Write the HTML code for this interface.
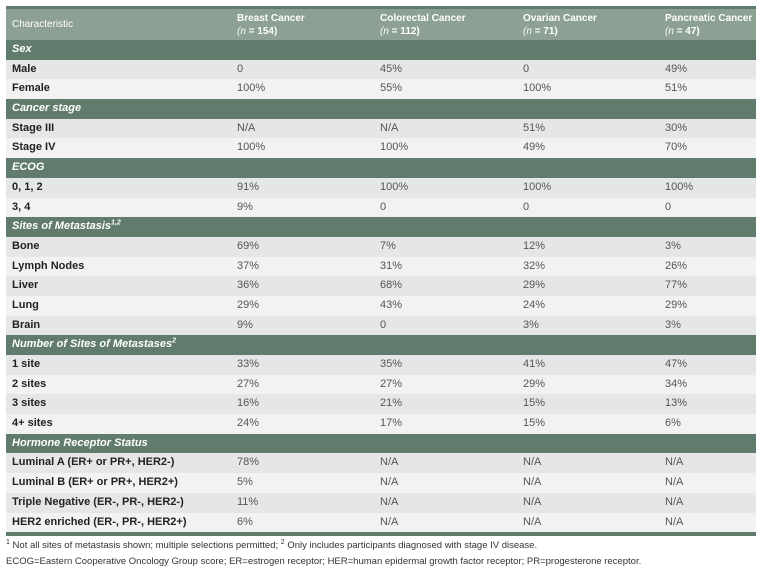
<!DOCTYPE html>
<html><head><style>
body{margin:0;width:762px;height:570px;background:#fff;font-family:"Liberation Sans",sans-serif;position:relative;overflow:hidden}
.t{position:absolute;left:6px;width:750px}
.r{position:relative;height:19.7px;font-size:11px;line-height:19.7px}
.r span{position:absolute;top:0;white-space:nowrap}
.a{left:6px;font-weight:bold;color:#222}
.v{color:#555}
.c1{left:231px}.c2{left:374px}.c3{left:517px}.c4{left:659px}
.s{background:#617c6d;color:#fff;font-style:italic;font-weight:bold}
.s span{color:#fff}
.g{background:#e4e7e5}.w{background:#f1f2f1}
.h{background:#8ca093;height:31px;border-top:3px solid #617c6d;color:#fff;font-size:10px}
.h span{position:absolute;line-height:13px;top:3px;color:#fff;font-weight:bold}
sup{font-size:7px;line-height:0}
.f{position:absolute;left:6px;font-size:9.5px;color:#333;white-space:nowrap}
</style></head><body>
<div class="t" style="top:6px">
<div class="r h"><span class="a" style="top:9px;font-weight:normal">Characteristic</span><span class="c1">Breast Cancer<br><i style="font-weight:normal">(n</i> = 154)</span><span class="c2">Colorectal Cancer<br><i style="font-weight:normal">(n</i> = 112)</span><span class="c3">Ovarian Cancer<br><i style="font-weight:normal">(n</i> = 71)</span><span class="c4">Pancreatic Cancer<br><i style="font-weight:normal">(n</i> = 47)</span></div>
<div class="r s"><span class="a">Sex</span></div>
<div class="r g"><span class="a">Male</span><span class="v c1">0</span><span class="v c2">45%</span><span class="v c3">0</span><span class="v c4">49%</span></div>
<div class="r w"><span class="a">Female</span><span class="v c1">100%</span><span class="v c2">55%</span><span class="v c3">100%</span><span class="v c4">51%</span></div>
<div class="r s"><span class="a">Cancer stage</span></div>
<div class="r g"><span class="a">Stage III</span><span class="v c1">N/A</span><span class="v c2">N/A</span><span class="v c3">51%</span><span class="v c4">30%</span></div>
<div class="r w"><span class="a">Stage IV</span><span class="v c1">100%</span><span class="v c2">100%</span><span class="v c3">49%</span><span class="v c4">70%</span></div>
<div class="r s"><span class="a">ECOG</span></div>
<div class="r g"><span class="a">0, 1, 2</span><span class="v c1">91%</span><span class="v c2">100%</span><span class="v c3">100%</span><span class="v c4">100%</span></div>
<div class="r w"><span class="a">3, 4</span><span class="v c1">9%</span><span class="v c2">0</span><span class="v c3">0</span><span class="v c4">0</span></div>
<div class="r s"><span class="a">Sites of Metastasis<sup>1,2</sup></span></div>
<div class="r g"><span class="a">Bone</span><span class="v c1">69%</span><span class="v c2">7%</span><span class="v c3">12%</span><span class="v c4">3%</span></div>
<div class="r w"><span class="a">Lymph Nodes</span><span class="v c1">37%</span><span class="v c2">31%</span><span class="v c3">32%</span><span class="v c4">26%</span></div>
<div class="r g"><span class="a">Liver</span><span class="v c1">36%</span><span class="v c2">68%</span><span class="v c3">29%</span><span class="v c4">77%</span></div>
<div class="r w"><span class="a">Lung</span><span class="v c1">29%</span><span class="v c2">43%</span><span class="v c3">24%</span><span class="v c4">29%</span></div>
<div class="r g"><span class="a">Brain</span><span class="v c1">9%</span><span class="v c2">0</span><span class="v c3">3%</span><span class="v c4">3%</span></div>
<div class="r s"><span class="a">Number of Sites of Metastases<sup>2</sup></span></div>
<div class="r g"><span class="a">1 site</span><span class="v c1">33%</span><span class="v c2">35%</span><span class="v c3">41%</span><span class="v c4">47%</span></div>
<div class="r w"><span class="a">2 sites</span><span class="v c1">27%</span><span class="v c2">27%</span><span class="v c3">29%</span><span class="v c4">34%</span></div>
<div class="r g"><span class="a">3 sites</span><span class="v c1">16%</span><span class="v c2">21%</span><span class="v c3">15%</span><span class="v c4">13%</span></div>
<div class="r w"><span class="a">4+ sites</span><span class="v c1">24%</span><span class="v c2">17%</span><span class="v c3">15%</span><span class="v c4">6%</span></div>
<div class="r s"><span class="a">Hormone Receptor Status</span></div>
<div class="r g"><span class="a">Luminal A (ER+ or PR+, HER2-)</span><span class="v c1">78%</span><span class="v c2">N/A</span><span class="v c3">N/A</span><span class="v c4">N/A</span></div>
<div class="r w"><span class="a">Luminal B (ER+ or PR+, HER2+)</span><span class="v c1">5%</span><span class="v c2">N/A</span><span class="v c3">N/A</span><span class="v c4">N/A</span></div>
<div class="r g"><span class="a">Triple Negative (ER-, PR-, HER2-)</span><span class="v c1">11%</span><span class="v c2">N/A</span><span class="v c3">N/A</span><span class="v c4">N/A</span></div>
<div class="r w"><span class="a">HER2 enriched (ER-, PR-, HER2+)</span><span class="v c1">6%</span><span class="v c2">N/A</span><span class="v c3">N/A</span><span class="v c4">N/A</span></div>
<div style="height:4px;background:#617c6d"></div>
</div>
<div class="f" style="top:540px"><sup>1</sup> Not all sites of metastasis shown; multiple selections permitted; <sup>2</sup> Only includes participants diagnosed with stage IV disease.</div>
<div class="f" style="top:556px">ECOG=Eastern Cooperative Oncology Group score; ER=estrogen receptor; HER=human epidermal growth factor receptor; PR=progesterone receptor.</div>
</body></html>
